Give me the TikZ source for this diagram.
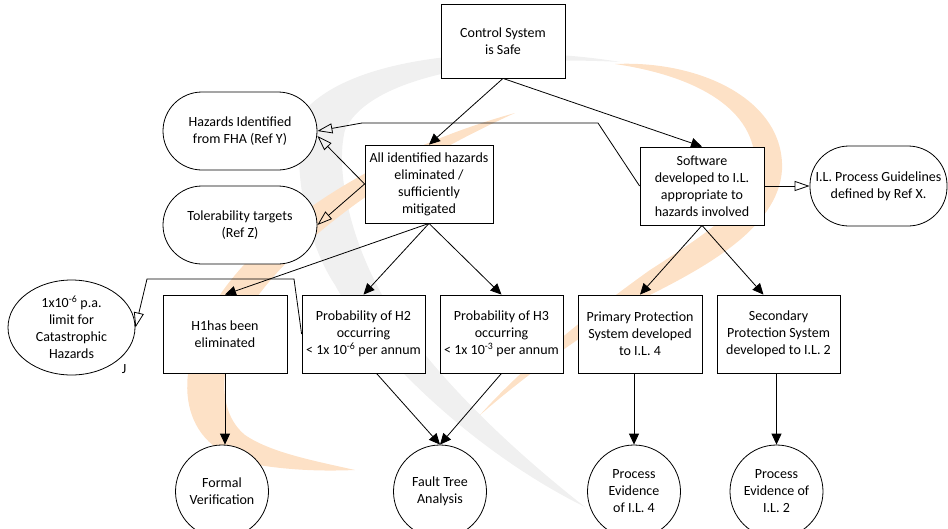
\documentclass[tikz,border=0pt]{standalone}
\usepackage{fontspec}
\setmainfont{Carlito}
\usepackage{tikz}
\usetikzlibrary{arrows.meta,shapes.geometric,positioning}
\definecolor{wmgray}{RGB}{240,240,240}
\definecolor{wmorange}{RGB}{253,225,198}

\begin{document}
\begin{tikzpicture}[x=1pt,y=-1pt,
                    every node/.style={font=\fontsize{14}{17}\selectfont},
                    box/.style={draw, fill=white, line width=0.8pt, align=center,
                                inner sep=1pt, minimum width=124pt, minimum height=78pt},
                    oval/.style={draw, fill=white, line width=0.8pt, align=center,
                                 rounded corners=39pt, inner sep=0pt,
                                 minimum width=154pt, minimum height=78pt},
                    blob/.style={ellipse, draw, fill=white, line width=0.8pt, align=center,
                                 inner sep=0pt, minimum width=127pt, minimum height=95pt},
                    disc/.style={circle, draw, fill=white, line width=0.8pt, align=center,
                                 inner sep=0pt, minimum size=93pt},
                    solid arrow/.style={line width=0.8pt, -{Triangle[length=11pt,width=10pt]}},
                    open arrow/.style={line width=0.8pt, -{Triangle[open,length=15pt,width=10pt]}},
                   ]

\useasboundingbox (0,0) rectangle (948,528);

% watermark
\fill[wmgray] (620,62) .. controls (520,45) and (360,50) .. (305,110)
              .. controls (290,160) and (305,240) .. (335,285)
              .. controls (370,350) and (470,450) .. (585,507)
              .. controls (500,440) and (430,370) .. (385,300)
              .. controls (350,240) and (335,170) .. (345,130)
              .. controls (370,75) and (500,55) .. cycle;
\fill[wmorange] (515,113) .. controls (380,150) and (250,230) .. (205,320)
              .. controls (170,390) and (185,455) .. (265,466)
              .. controls (300,471) and (330,471) .. (355,470)
              .. controls (310,460) and (270,452) .. (245,435)
              .. controls (215,410) and (220,360) .. (245,315)
              .. controls (290,240) and (400,165) .. cycle;
\fill[wmorange] (615,64) .. controls (700,60) and (785,100) .. (782,170)
              .. controls (778,230) and (700,270) .. (640,300)
              .. controls (580,335) and (520,380) .. (480,415)
              .. controls (520,370) and (580,320) .. (650,270)
              .. controls (720,225) and (755,200) .. (755,160)
              .. controls (752,105) and (690,75) .. cycle;

% nodes
\node[box, minimum height=74pt] (ctrl) at (503,41) {Control System\\is Safe};
\node[oval] (haz) at (240,131) {Hazards Identified\\from FHA (Ref Y)};
\node[oval] (tol) at (240,225) {Tolerability targets\\(Ref Z)};
\node[box, minimum width=128pt] (allhaz) at (429,184) {All identified hazards\\eliminated /\\sufficiently\\mitigated};
\node[box] (soft) at (702,186) {Software\\developed to I.L.\\appropriate to\\hazards involved};
\node[oval, minimum width=137pt, minimum height=80pt] (ilp) at (878.5,186) {I.L. Process Guidelines\\defined by Ref X.};

\node[blob] (cat) at (71.5,327.5) {1x10\textsuperscript{-6} p.a.\\limit for\\Catastrophic\\Hazards};
\node (jmark) at (124,369) {J};
\node[box] (hone) at (225,334) {H1has been\\eliminated};
\node[box, minimum width=123pt] (htwo) at (363.5,334) {Probability of H2\\occurring\\< 1x 10\textsuperscript{-6} per annum};
\node[box, minimum width=123pt] (hthree) at (501.5,334) {Probability of H3\\occurring\\< 1x 10\textsuperscript{-3} per annum};
\node[box] (prim) at (640,334) {Primary Protection\\System developed\\to I.L. 4};
\node[box, minimum width=123pt] (sec) at (778.5,334) {Secondary\\Protection System\\developed to I.L. 2};

\node[disc] (fv) at (222,491.5) {Formal\\Verification};
\node[disc] (fta) at (440,491.5) {Fault Tree\\Analysis};
\node[disc] (pe4) at (634,491.5) {Process\\Evidence\\of I.L. 4};
\node[disc] (pe2) at (776.5,491.5) {Process\\Evidence of\\I.L. 2};

% bends
\coordinate (softbend) at (598,123);
\coordinate (hazbend) at (362,123);
\coordinate (catbendr) at (294,279);
\coordinate (catbendl) at (147,279);

% connectors
\draw[solid arrow] (ctrl.south) -- (allhaz.north);
\draw[solid arrow] (ctrl.south) -- (soft.north);

\draw[open arrow] (allhaz.west) -- ([yshift=-5pt]haz.east);
\draw[open arrow] (allhaz.west) -- (tol.east);
\draw[open arrow] (soft.west) -- (softbend) -- (hazbend) -- (haz.east);
\draw[open arrow] (soft.east) -- (ilp.west);

\draw[solid arrow] (allhaz.south) -- (hone.north);
\draw[solid arrow] (allhaz.south) -- (htwo.north);
\draw[solid arrow] (allhaz.south) -- (hthree.north);
\draw[open arrow] (htwo.west) -- (catbendr) -- (catbendl) -- (cat.east);

\draw[solid arrow] (soft.south) -- (prim.north);
\draw[solid arrow] (soft.south) -- ([xshift=-15pt]sec.north);

\draw[solid arrow] (hone.south) -- (hone.south |- fv.north);
\draw[solid arrow] ([xshift=13pt]htwo.south) -- (fta.north);
\draw[solid arrow] (hthree.south) -- (fta.north);
\draw[solid arrow] (pe4.north |- prim.south) -- (pe4.north);
\draw[solid arrow] (pe2.north |- sec.south) -- (pe2.north);

\end{tikzpicture}
\end{document}
